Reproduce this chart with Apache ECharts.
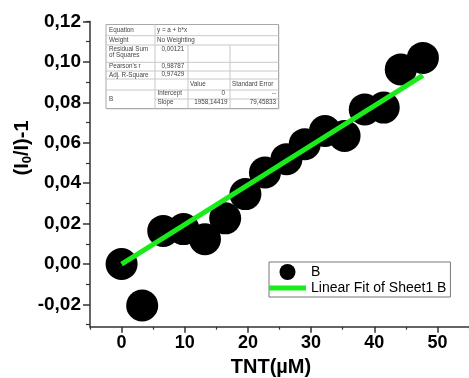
<!DOCTYPE html>
<html>
<head>
<meta charset="utf-8">
<script src="https://cdn.jsdelivr.net/npm/echarts@6/dist/echarts.min.js"></script>
<style>html,body{margin:0;padding:0;background:#fff;}#c{width:469px;height:378px;}</style>
</head>
<body>
<div id="c"></div>
<script>
// ---- data ----
var tntX = [0, 3.26, 6.6, 9.8, 13.2, 16.4, 19.6, 22.7, 26.1, 29.0, 32.2, 35.3, 38.5, 41.5, 44.2, 47.7];
var quenchY = [0, -0.0205, 0.0164, 0.0173, 0.0123, 0.0226, 0.0346, 0.0453, 0.0519, 0.0593, 0.0658, 0.0634, 0.0765, 0.0774, 0.0963, 0.102];
var fitIntercept = 0;
var fitSlopePerM = 1958.14419;      // slope reported per M
var fitSlope = fitSlopePerM * 1e-6; // per µM
var seriesNames = ['B', 'Linear Fit of Sheet1 B'];
var xTitle = 'TNT(µM)';
var tableCol1 = ['Equation', 'Weight', 'Residual Sum|of Squares', "Pearson's r", 'Adj. R-Square', '', 'B'];
var tableSpan = ['y = a + b*x', 'No Weighting'];
var tableStats = ['0,00121', '0,98787', '0,97429'];
var tableHead = ['Value', 'Standard Error'];
var tableParams = ['Intercept', 'Slope'];
var tableValues = ['0', '1958,14419'];
var tableErrors = ['--', '79,45833'];

var FONT = 'Liberation Sans, Arial, sans-serif';
var scatterData = tntX.map(function (x, i) { return [x, quenchY[i]]; });
var xEnd = Math.max.apply(null, tntX);
var fitData = [[0, fitIntercept], [xEnd, fitIntercept + fitSlope * xEnd]];

function fmtY(v) { return v.toFixed(2).replace('.', ','); }

// ---- table graphic ----
var L = 106, R = 278.5, T = 24.5, B = 108.5;
var cx = [106, 155, 188, 230, 278.5];
var ry = [24.5, 35.7, 45, 62.3, 71, 79, 90, 99, 108.5];
var lineC = '#c8c8c8';
var g = [];
g.push({type: 'rect', shape: {x: L + 1, y: T + 1, width: R - L, height: B - T}, style: {fill: '#d8d8d8'}, z: 9});
g.push({type: 'rect', shape: {x: L, y: T, width: R - L, height: B - T}, style: {fill: '#fff', stroke: '#a8a8a8', lineWidth: 1}, z: 10});
function hl(x1, x2, y) { g.push({type: 'line', shape: {x1: x1, y1: y, x2: x2, y2: y}, style: {stroke: lineC, lineWidth: 1}, z: 11}); }
function vl(x, y1, y2) { g.push({type: 'line', shape: {x1: x, y1: y1, x2: x, y2: y2}, style: {stroke: lineC, lineWidth: 1}, z: 11}); }
for (var i = 1; i < ry.length - 1; i++) { if (i === 7) hl(cx[1], R, ry[i]); else hl(L, R, ry[i]); }
vl(cx[1], T, B); vl(cx[2], ry[2], B); vl(cx[3], ry[2], B);
function tx(s, x, y, align) {
  g.push({type: 'text', x: x, y: y, z: 12, style: {text: s, fill: '#444', font: '6.3px ' + FONT, align: align || 'left', verticalAlign: 'middle'}});
}
tx(tableCol1[0], 109, 30); tx(tableSpan[0], 157, 30);
tx(tableCol1[1], 109, 40.3); tx(tableSpan[1], 157, 40.3);
var rs = tableCol1[2].split('|');
tx(rs[0], 109, 49.3); tx(rs[1], 109, 55.6); tx(tableStats[0], 161.5, 49.3);
tx(tableCol1[3], 109, 66.7); tx(tableStats[1], 161.5, 66.7);
tx(tableCol1[4], 109, 74.8); tx(tableStats[2], 161.5, 74);
tx(tableHead[0], 190, 84.5); tx(tableHead[1], 232, 84.5);
tx(tableCol1[6], 109, 99);
tx(tableParams[0], 157.5, 93); tx(tableValues[0], 225, 93, 'right'); tx(tableErrors[0], 276, 93, 'right');
tx(tableParams[1], 157.5, 102); tx(tableValues[1], 227.5, 102, 'right'); tx(tableErrors[1], 276, 102, 'right');

// axis titles
g.push({type: 'text', x: 271, y: 367, z: 5, style: {text: xTitle, fill: '#000', font: 'bold 20px ' + FONT, align: 'center', verticalAlign: 'middle'}});
g.push({type: 'text', x: 22, y: 148, rotation: Math.PI / 2, z: 5, style: {
  text: '{a|(I}{s|0}{a|/I)-1}', align: 'center', verticalAlign: 'middle',
  rich: {a: {font: 'bold 20px ' + FONT, fill: '#000', lineHeight: 24, verticalAlign: 'middle'},
         s: {font: 'bold 13px ' + FONT, fill: '#000', lineHeight: 24, padding: [10, 0, 0, 0], verticalAlign: 'bottom'}}
}});

var axisCol = '#333';
var gridMain = {left: 90, top: 21.5, width: 381, height: 305.2};
var gridMinorY = {left: 90, top: 21.5, width: 381, height: 0.15 * 305.2 / 0.151};

var option = {
  backgroundColor: '#fff',
  animation: false,
  grid: [gridMain, gridMinorY],
  xAxis: [
    {type: 'value', gridIndex: 0, min: -5, max: 55, splitNumber: 6,
     axisLine: {show: true, onZero: false, lineStyle: {color: axisCol, width: 1.5}},
     axisTick: {show: true, length: 6, lineStyle: {color: axisCol, width: 1.5}},
     splitLine: {show: false},
     axisLabel: {show: true, margin: 7, showMinLabel: false, showMaxLabel: false, color: '#000', fontFamily: FONT, fontWeight: 'bold', fontSize: 18}},
    {type: 'value', gridIndex: 0, min: -5, max: 55, interval: 10, position: 'bottom',
     axisLine: {show: false, onZero: false}, axisTick: {show: true, length: 3, lineStyle: {color: axisCol, width: 1.2}},
     splitLine: {show: false}, axisLabel: {show: false}},
    {type: 'value', gridIndex: 1, min: -5, max: 55, show: false}
  ],
  yAxis: [
    {type: 'value', gridIndex: 0, min: -0.031, max: 0.12, splitNumber: 8,
     axisLine: {show: true, onZero: false, lineStyle: {color: axisCol, width: 1.5}},
     axisTick: {show: true, length: 7, lineStyle: {color: axisCol, width: 1.5}},
     splitLine: {show: false},
     axisLabel: {show: true, margin: 9, showMinLabel: false, formatter: fmtY, color: '#000', fontFamily: FONT, fontWeight: 'bold', fontSize: 19}},
    {type: 'value', gridIndex: 1, min: -0.03, max: 0.12, interval: 0.02, position: 'left',
     axisLine: {show: false, onZero: false}, axisTick: {show: true, length: 4, lineStyle: {color: axisCol, width: 1.2}},
     splitLine: {show: false}, axisLabel: {show: false}}
  ],
  legend: {
    orient: 'vertical', left: 269, top: 262, itemWidth: 37, itemHeight: 16, itemGap: 1,
    padding: [2, 4, 2, 0], borderColor: '#777', borderWidth: 1, backgroundColor: '#fff',
    textStyle: {fontFamily: FONT, fontSize: 14, color: '#000'},
    data: [{name: seriesNames[0], icon: 'circle'},
           {name: seriesNames[1], icon: 'path://M0,0L37,0L37,5L0,5Z', itemStyle: {color: '#1aeb1a'}}]
  },
  series: [
    {name: seriesNames[0], type: 'scatter', xAxisIndex: 0, yAxisIndex: 0, data: scatterData,
     symbol: 'circle', symbolSize: 32, itemStyle: {color: '#000', opacity: 1}, z: 2},
    {name: seriesNames[1], type: 'line', xAxisIndex: 0, yAxisIndex: 0, data: fitData,
     symbol: 'none', showSymbol: false, lineStyle: {color: '#1aeb1a', width: 5}, itemStyle: {color: '#1aeb1a'}, z: 3}
  ],
  graphic: g
};
var chart = echarts.init(document.getElementById('c'), null, {renderer: 'canvas'});
chart.setOption(option);
</script>
</body>
</html>
